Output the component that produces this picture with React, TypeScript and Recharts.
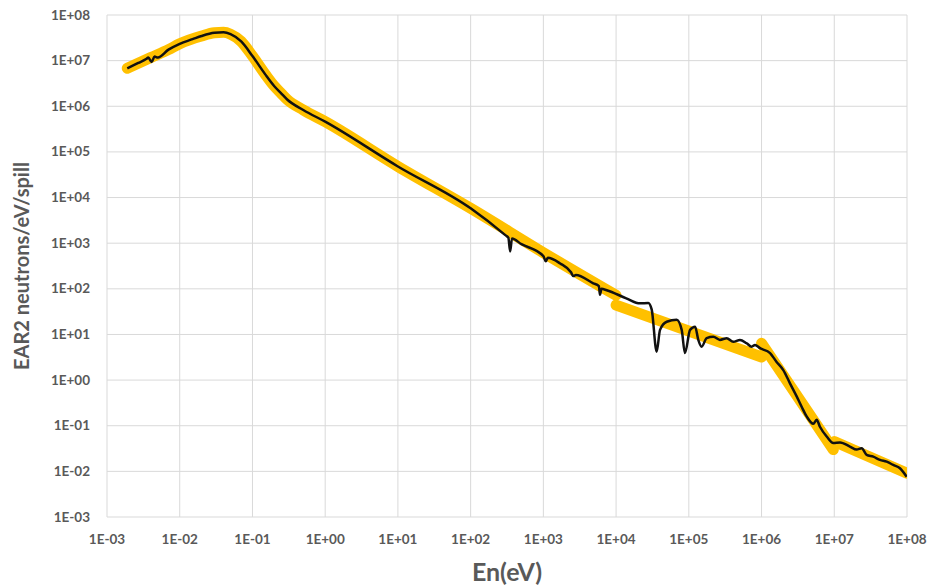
import { LineChart, Line, XAxis, YAxis, CartesianGrid, Label } from "recharts"

// decade ticks shared by both log axes
const tickValues = [1e-3, 1e-2, 1e-1, 1e0, 1e1, 1e2, 1e3, 1e4, 1e5, 1e6, 1e7, 1e8]
const tickLabels = ["1E-03", "1E-02", "1E-01", "1E+00", "1E+01", "1E+02", "1E+03", "1E+04", "1E+05", "1E+06", "1E+07", "1E+08"]

// measured spectrum (black)
const measured = [
  { x: 0.0019, y: 6.8e6 }, { x: 0.0027, y: 8.9e6 }, { x: 0.0035, y: 1.1e7 }, { x: 0.0037, y: 1.17e7 },
  { x: 0.0041, y: 9.3e6 }, { x: 0.0045, y: 1.23e7 }, { x: 0.005, y: 1.17e7 }, { x: 0.007, y: 1.74e7 },
  { x: 0.01, y: 2.34e7 }, { x: 0.015, y: 2.95e7 }, { x: 0.02, y: 3.47e7 }, { x: 0.03, y: 4.07e7 },
  { x: 0.04, y: 4.17e7 }, { x: 0.05, y: 3.8e7 }, { x: 0.07, y: 2.63e7 }, { x: 0.1, y: 1.26e7 },
  { x: 0.15, y: 5.0e6 }, { x: 0.2, y: 2.75e6 }, { x: 0.25, y: 1.9e6 }, { x: 0.3, y: 1.41e6 },
  { x: 0.5, y: 8.3e5 }, { x: 1, y: 4.6e5 }, { x: 10, y: 4.8e4 }, { x: 100, y: 5.8e3 },
  { x: 300, y: 1.5e3 }, { x: 330, y: 1.32e3 }, { x: 350, y: 6.6e2 }, { x: 370, y: 1.26e3 },
  { x: 500, y: 9.5e2 }, { x: 1000, y: 5.2e2 }, { x: 1080, y: 4.0e2 }, { x: 1150, y: 4.8e2 },
  { x: 1700, y: 3.6e2 }, { x: 2400, y: 2.3e2 }, { x: 2580, y: 1.9e2 }, { x: 2800, y: 2.0e2 },
  { x: 4860, y: 132 }, { x: 5800, y: 115 }, { x: 6000, y: 74 }, { x: 6300, y: 100 },
  { x: 7430, y: 93 }, { x: 13800, y: 62 }, { x: 21300, y: 48 }, { x: 27700, y: 49 },
  { x: 30900, y: 35 }, { x: 36100, y: 4.2 }, { x: 40200, y: 12.6 }, { x: 49700, y: 19 },
  { x: 68100, y: 21 }, { x: 79800, y: 12.6 }, { x: 88500, y: 3.9 }, { x: 104000, y: 12.6 },
  { x: 122000, y: 14.8 }, { x: 135000, y: 7.6 }, { x: 150000, y: 5.4 }, { x: 176000, y: 8.3 },
  { x: 217000, y: 8.9 }, { x: 268000, y: 7.6 }, { x: 332000, y: 8.3 }, { x: 409000, y: 6.9 },
  { x: 505000, y: 7.6 }, { x: 624000, y: 6.4 }, { x: 731000, y: 5.4 }, { x: 813000, y: 5.9 },
  { x: 953000, y: 5.0 }, { x: 1.31e6, y: 3.9 }, { x: 1.61e6, y: 2.5 }, { x: 1.99e6, y: 1.66 },
  { x: 2.46e6, y: 0.85 }, { x: 3.04e6, y: 0.44 }, { x: 3.56e6, y: 0.26 }, { x: 4.17e6, y: 0.16 },
  { x: 5.14e6, y: 0.11 }, { x: 5.73e6, y: 0.135 }, { x: 6.35e6, y: 0.095 }, { x: 7.87e6, y: 0.058 },
  { x: 9.68e6, y: 0.042 }, { x: 1.2e7, y: 0.043 }, { x: 1.64e7, y: 0.035 }, { x: 2.03e7, y: 0.03 },
  { x: 2.38e7, y: 0.032 }, { x: 2.79e7, y: 0.023 }, { x: 3.44e7, y: 0.021 }, { x: 4.25e7, y: 0.0178 },
  { x: 5.25e7, y: 0.0163 }, { x: 6.47e7, y: 0.0138 }, { x: 8.0e7, y: 0.0117 }, { x: 9.9e7, y: 0.0076 },
]

// fitted pieces (yellow)
const fitThermal = [
  { x: 0.0019, y: 6.8e6 }, { x: 0.004, y: 1.17e7 }, { x: 0.007, y: 1.74e7 }, { x: 0.01, y: 2.34e7 },
  { x: 0.02, y: 3.47e7 }, { x: 0.03, y: 4.07e7 }, { x: 0.04, y: 4.17e7 }, { x: 0.05, y: 3.8e7 },
  { x: 0.07, y: 2.63e7 }, { x: 0.1, y: 1.26e7 }, { x: 0.15, y: 5.0e6 }, { x: 0.2, y: 2.75e6 },
  { x: 0.25, y: 1.9e6 }, { x: 0.3, y: 1.41e6 }, { x: 0.5, y: 8.3e5 }, { x: 1, y: 4.6e5 },
  { x: 10, y: 4.8e4 }, { x: 100, y: 5.8e3 }, { x: 1000, y: 6.2e2 }, { x: 10000, y: 72 },
]
const fitEpithermal = [{ x: 10000, y: 44 }, { x: 1e6, y: 3.2 }]
const fitFast = [{ x: 1e6, y: 6.4 }, { x: 9.7e6, y: 0.03 }]
const fitHigh = [{ x: 1e7, y: 0.045 }, { x: 1e8, y: 0.0091 }]

const FONT = "Lato, 'Open Sans', sans-serif"
const GREY = "#595959"
const GOLD = "#FFC000"

function XTick({ x, y, index }: any) {
  return (
    <text x={x} y={y + 27} textAnchor="middle" fontFamily={FONT} fontWeight={700} fontSize={13.5} fill={GREY}>
      {tickLabels[index]}
    </text>
  )
}

function YTick({ y, index }: any) {
  return (
    <text x={90} y={y + 4.5} textAnchor="end" fontFamily={FONT} fontWeight={700} fontSize={13.5} fill={GREY}>
      {tickLabels[index]}
    </text>
  )
}

export default function App() {
  const fits = [fitThermal, fitEpithermal, fitFast, fitHigh]
  return (
    <div style={{ position: "absolute", left: 0, top: 0, width: 928, height: 585, background: "#fff" }}>
      <LineChart width={928} height={585} margin={{ top: 15, right: 21, bottom: 0, left: 0 }}>
        <CartesianGrid stroke="#d9d9d9" strokeWidth={1} />
        <XAxis
          dataKey="x"
          type="number"
          scale="log"
          domain={[1e-3, 1e8]}
          ticks={tickValues}
          allowDataOverflow
          axisLine={false}
          tickLine={false}
          tickSize={0}
          tickMargin={0}
          height={68}
          tick={<XTick />}
          interval={0}
        >
          <Label
            content={({ viewBox }: any) => (
              <text
                x={viewBox.x + viewBox.width / 2}
                y={581}
                textAnchor="middle"
                fontFamily={FONT}
                fontWeight={700}
                fontSize={25}
                fill={GREY}
              >
                En(eV)
              </text>
            )}
          />
        </XAxis>
        <YAxis
          dataKey="y"
          type="number"
          scale="log"
          domain={[1e-3, 1e8]}
          ticks={tickValues}
          allowDataOverflow
          axisLine={false}
          tickLine={false}
          tickSize={0}
          tickMargin={0}
          width={107}
          tick={<YTick />}
          interval={0}
        >
          <Label
            content={({ viewBox }: any) => {
              const cy = viewBox.y + viewBox.height / 2
              return (
                <text
                  x={29}
                  y={cy}
                  transform={`rotate(-90, 29, ${cy})`}
                  textAnchor="middle"
                  fontFamily={FONT}
                  fontWeight={700}
                  fontSize={20}
                  fill={GREY}
                >
                  EAR2 neutrons/eV/spill
                </text>
              )
            }}
          />
        </YAxis>
        {fits.map((d, i) => (
          <Line
            key={i}
            data={d}
            dataKey="y"
            type="monotone"
            stroke={GOLD}
            strokeWidth={11}
            strokeLinecap="round"
            strokeLinejoin="round"
            dot={false}
            activeDot={false}
            isAnimationActive={false}
          />
        ))}
        <Line
          data={measured}
          dataKey="y"
          type="monotone"
          stroke="#111"
          strokeWidth={2.5}
          strokeLinejoin="round"
          dot={false}
          activeDot={false}
          isAnimationActive={false}
        />
      </LineChart>
    </div>
  )
}
